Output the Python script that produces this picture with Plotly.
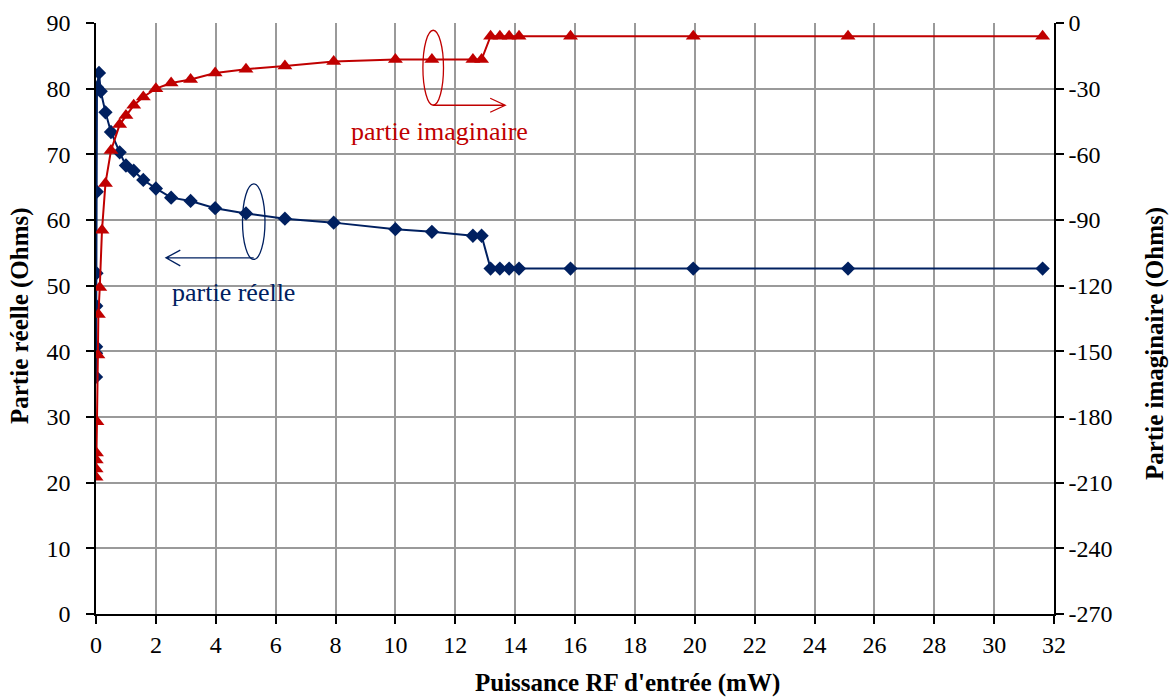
import plotly.graph_objects as go

# ---- data ----
x_reelle = [0.001, 0.002, 0.004, 0.008, 0.016, 0.025, 0.032, 0.1, 0.158, 0.316, 0.5, 0.79, 1.0, 1.26, 1.58,
            2.0, 2.51, 3.16, 3.98, 5.01, 6.31, 7.94, 10.0, 11.22, 12.59, 12.88, 13.18, 13.49, 13.8, 14.13,
            15.85, 19.95, 25.12, 31.62]
y_reelle = [36.1, 39.7, 40.7, 46.9, 51.9, 64.3, 80.2, 82.4, 79.6, 76.4, 73.4, 70.3, 68.3, 67.5, 66.1,
            64.8, 63.4, 62.9, 61.8, 61.0, 60.2, 59.6, 58.6, 58.2, 57.6, 57.6, 52.6, 52.6, 52.6, 52.6,
            52.6, 52.6, 52.6, 52.6]

x_imag = [0.002, 0.004, 0.008, 0.016, 0.032, 0.063, 0.079, 0.126, 0.2, 0.316, 0.5, 0.79, 1.0, 1.26, 1.58,
          2.0, 2.51, 3.16, 3.98, 5.01, 6.31, 7.94, 10.0, 11.22, 12.59, 12.88, 13.18, 13.49, 13.8, 14.13,
          15.85, 19.95, 25.12, 31.62]
y_imag = [-207.5, -203.8, -199.7, -196.5, -182.2, -151.7, -133.2, -120.8, -94.7, -73.3, -58.3, -46.4, -42.3,
          -37.6, -33.8, -30.0, -27.4, -25.8, -22.8, -21.1, -19.6, -17.6, -16.7, -16.7, -16.7, -16.7,
          -6.0, -6.0, -6.0, -6.0, -6.0, -6.0, -6.0, -6.0]

x_ticks = list(range(0, 33, 2))
y_ticks = list(range(0, 91, 10))
y2_ticks = list(range(-270, 1, 30))
y2_ticktext = [str(v) for v in y2_ticks]
label_reelle = "partie réelle"
label_imag = "partie imaginaire"
title_x = "Puissance RF d'entrée (mW)"
title_y = "Partie réelle (Ohms)"
title_y2 = "Partie imaginaire (Ohms)"

BLUE = "#002060"
RED = "#C00000"
FONT = "Liberation Serif"

W, H = 1170, 697
ML, MR, MT, MB = 96, 116, 23, 83
PW, PH = W - ML - MR, H - MT - MB

fig = go.Figure()
fig.add_trace(go.Scatter(x=x_reelle, y=y_reelle, mode="lines+markers", name=label_reelle,
                         line=dict(color=BLUE, width=2),
                         marker=dict(symbol="diamond", size=11, color=BLUE)))
fig.add_trace(go.Scatter(x=x_imag, y=y_imag, mode="lines+markers", name=label_imag, yaxis="y2",
                         line=dict(color=RED, width=2),
                         marker=dict(symbol="triangle-up", size=13, color=RED)))

# anchors for callouts (data points from the arrays)
ir = x_reelle.index(5.01)
ii = x_imag.index(11.22)
ax_r, ay_r = x_reelle[ir], y_reelle[ir]
ax_i, ay_i = x_imag[ii], y_imag[ii]

shapes = [
    dict(type="circle", xref="x", yref="y", xsizemode="pixel", ysizemode="pixel",
         xanchor=ax_r, yanchor=ay_r, x0=-3.5, x1=19, y0=-46, y1=29.5,
         line=dict(color=BLUE, width=1.3)),
    dict(type="path", xref="x", yref="y", xsizemode="pixel", ysizemode="pixel",
         xanchor=ax_r, yanchor=ay_r,
         path="M 7.7,-44.4 L -80,-44.4 M -65.7,-36.7 L -80,-44.4 L -65.7,-52.4",
         line=dict(color=BLUE, width=1.3)),
    dict(type="circle", xref="x", yref="y2", xsizemode="pixel", ysizemode="pixel",
         xanchor=ax_i, yanchor=ay_i, x0=-9, x1=11.6, y0=-45.7, y1=29.3,
         line=dict(color=RED, width=1.3)),
    dict(type="path", xref="x", yref="y2", xsizemode="pixel", ysizemode="pixel",
         xanchor=ax_i, yanchor=ay_i,
         path="M 1.3,-45.7 L 73.3,-45.7 M 58.3,-38.7 L 73.3,-45.7 L 58.3,-52.7",
         line=dict(color=RED, width=1.3)),
]

def px_x(p):
    return (p - ML) / PW

def px_y(p):
    return (H - MB - p) / PH

annotations = [
    dict(x=ax_r, y=ay_r, xref="x", yref="y", text=label_reelle, showarrow=False,
         xshift=-12, yshift=-79, font=dict(family=FONT, size=26, color=BLUE)),
    dict(x=ax_i, y=ay_i, xref="x", yref="y2", text=label_imag, showarrow=False,
         xshift=8, yshift=-72, font=dict(family=FONT, size=26, color=RED)),
    # axis titles
    dict(x=px_x(627), y=px_y(683), xref="paper", yref="paper", text="<b>" + title_x + "</b>",
         showarrow=False, xanchor="center", yanchor="middle",
         font=dict(family=FONT, size=25, color="black")),
    dict(x=px_x(20), y=px_y(316), xref="paper", yref="paper", text="<b>" + title_y + "</b>",
         showarrow=False, xanchor="center", yanchor="middle", textangle=-90,
         font=dict(family=FONT, size=25, color="black")),
    dict(x=px_x(1155), y=px_y(344), xref="paper", yref="paper", text="<b>" + title_y2 + "</b>",
         showarrow=False, xanchor="center", yanchor="middle", textangle=-90,
         font=dict(family=FONT, size=25, color="black")),
]

axis_common = dict(ticks="outside", ticklen=8, tickcolor="black", tickwidth=1.5,
                   showline=True, linecolor="black", linewidth=1.5, zeroline=False,
                   automargin=False, tickfont=dict(family=FONT, size=24, color="black"))

fig.update_layout(
    width=W, height=H,
    margin=dict(l=ML, r=MR, t=MT, b=MB),
    paper_bgcolor="white", plot_bgcolor="white",
    showlegend=False,
    font=dict(family=FONT, size=24, color="black"),
    shapes=shapes, annotations=annotations,
    xaxis=dict(range=[0, 32], tickvals=x_ticks, showgrid=True, gridcolor="#9a9a9a", gridwidth=1.5,
               **axis_common),
    yaxis=dict(range=[0, 90], tickvals=y_ticks, showgrid=True, gridcolor="#9a9a9a", gridwidth=1.5,
               ticklabelstandoff=11, **axis_common),
    yaxis2=dict(range=[-270, 0], tickvals=y2_ticks, ticktext=y2_ticktext, overlaying="y", side="right",
                showgrid=False, **axis_common),
)

fig.write_html("out.html", config={"displayModeBar": False},
               post_script="document.body.style.margin='0';document.body.style.overflow='hidden';")
